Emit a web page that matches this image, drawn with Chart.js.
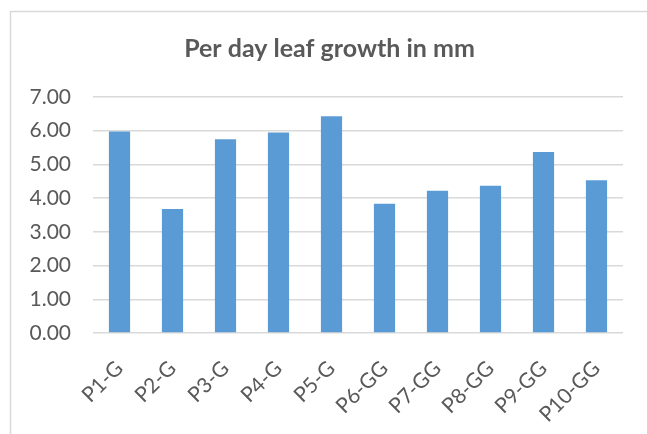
<!DOCTYPE html>
<html>
<head>
<meta charset="utf-8">
<script src="https://cdn.jsdelivr.net/npm/chart.js@4.4.0/dist/chart.umd.min.js"></script>
<style>
  html, body { margin: 0; padding: 0; background: #ffffff; }
  #wrap { width: 647px; height: 434px; }
</style>
</head>
<body>
<div id="wrap"><canvas id="grafico" width="647" height="434"></canvas></div>
<script>
const categorias = ['P1-G', 'P2-G', 'P3-G', 'P4-G', 'P5-G', 'P6-GG', 'P7-GG', 'P8-GG', 'P9-GG', 'P10-GG'];
const crescimento = [5.98, 3.68, 5.75, 5.95, 6.43, 3.83, 4.22, 4.37, 5.37, 4.53];
const tituloGrafico = 'Per day leaf growth in mm';

const corTexto = '#595959';
const corGrade = '#d9d9d9';

// moldura da area do grafico (estilo Excel), cortada pela borda da imagem
const moldura = {
    id: 'moldura',
    beforeDraw(chart) {
        const ctx = chart.ctx;
        ctx.save();
        ctx.strokeStyle = corGrade;
        ctx.lineWidth = 1.5;
        ctx.strokeRect(10.5, 11.5, 700, 500);
        ctx.restore();
    }
};

// o titulo no original fica um pouco a direita do centro
const ajusteTitulo = {
    id: 'ajusteTitulo',
    afterLayout(chart) {
        if (chart.titleBlock) {
            chart.titleBlock.left += 6;
            chart.titleBlock.right += 6;
        }
    }
};

const ctx = document.getElementById('grafico').getContext('2d');
new Chart(ctx, {
    type: 'bar',
    data: {
        labels: categorias,
        datasets: [{
            data: crescimento,
            backgroundColor: '#5b9bd5',
            borderWidth: 0,
            barPercentage: 0.4,
            categoryPercentage: 1.0
        }]
    },
    options: {
        responsive: false,
        animation: false,
        layout: { padding: { left: 24, right: 24, top: 0, bottom: 0 } },
        plugins: {
            legend: { display: false },
            tooltip: { enabled: false },
            title: {
                display: true,
                text: tituloGrafico,
                color: corTexto,
                font: { family: 'Lato', size: 25, weight: 'bold' },
                padding: { top: 34, bottom: 33 }
            }
        },
        scales: {
            x: {
                grid: { display: false },
                border: { display: false },
                ticks: {
                    color: corTexto,
                    font: { family: 'Lato', size: 21 },
                    minRotation: 45,
                    maxRotation: 45,
                    padding: 15
                },
                afterFit: s => { s.height = 101; }
            },
            y: {
                min: 0,
                max: 7,
                grid: { color: corGrade, lineWidth: 1.5, drawTicks: false },
                border: { display: false },
                ticks: {
                    stepSize: 1,
                    padding: 22,
                    color: corTexto,
                    font: { family: 'Lato', size: 21 },
                    callback: v => v.toFixed(2)
                },
                afterFit: s => { s.width = 69; }
            }
        }
    },
    plugins: [moldura, ajusteTitulo]
});
</script>
</body>
</html>
